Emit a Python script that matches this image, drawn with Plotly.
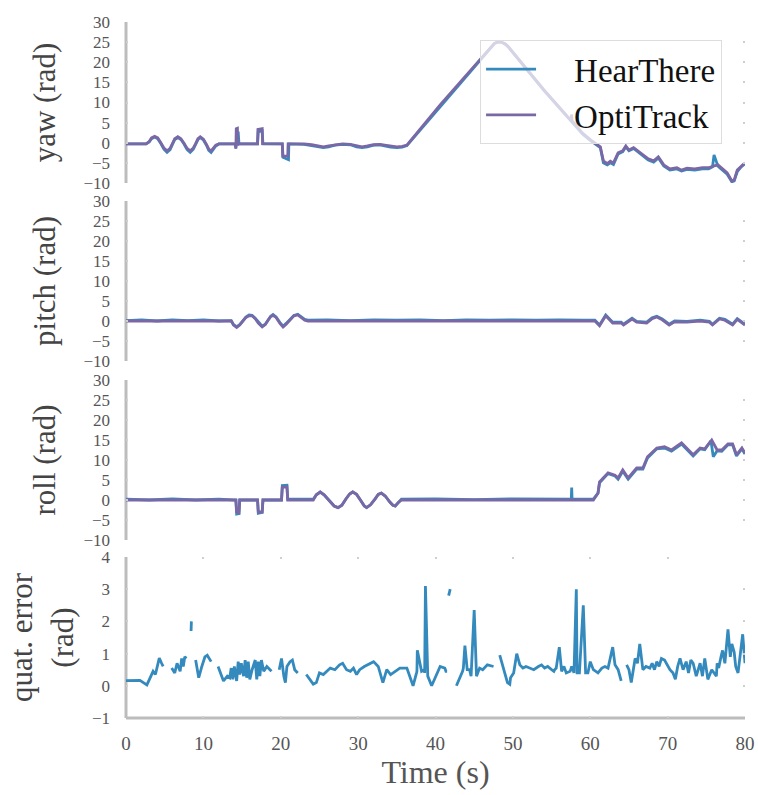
import plotly.graph_objects as go

# ---------------- data ----------------
yaw_t_opti = [0, 2.6, 3.0, 3.3, 3.7, 4.1, 4.5, 4.9, 5.3, 5.7, 6.0, 6.3, 6.7, 7.1, 7.5, 7.9, 8.3, 8.7,
              9.0, 9.3, 9.6, 10.0, 10.4, 10.7, 11.0, 11.3, 11.6, 12.0,
              14.1, 14.2, 14.25, 14.4, 14.45, 14.6, 17.0, 17.05, 17.6, 17.65, 20.2, 20.25, 20.9, 20.95,
              22, 23, 24, 25, 25.5, 26.2, 27, 28, 29, 29.8, 30.5, 31.2, 32, 32.8, 33.5, 34.2, 35,
              35.7, 36.3, 40.6, 44, 47.0, 47.6, 48.0, 48.5, 49.0, 49.4, 54,
              57.3, 57.5, 57.6, 57.65, 59, 60, 61.3, 61.7, 62.2, 62.6, 63.0, 63.6, 64.2, 64.6, 65.0,
              65.6, 66.5, 67.5, 68.2, 68.8, 69.5, 70.3, 71.2, 71.8, 72.5, 73.5, 74.5, 75.3, 75.9,
              76.5, 77.1, 77.7, 78.3, 78.6, 79.0, 79.5, 80]
yaw_opti = [-0.3, -0.3, 0.3, 1.2, 1.6, 1.2, 0.0, -1.3, -2.0, -1.4, -0.2, 1.0, 1.5, 1.0, -0.1, -1.4, -2.0, -1.3,
            -0.2, 1.0, 1.5, 0.9, -0.4, -1.6, -2.0, -1.4, -0.6, -0.3,
            -0.3, -1.5, 3.5, 3.6, -0.5, -0.3, -0.3, 3.3, 3.5, -0.2, -0.3, -3.3, -3.3, -0.3,
            -0.3, -0.3, -0.5, -0.9, -1.0, -0.8, -0.5, -0.3, -0.4, -0.8, -1.0, -0.8, -0.5, -0.4, -0.6, -0.9, -1.0,
            -0.9, -0.6, 9.4, 16.8, 23.5, 24.7, 25.0, 25.0, 24.6, 23.9, 13.2,
            6.0, 6.0, 7.0, 5.5, 2.4, 0.8, -1.0, -4.5, -5.2, -4.6, -5.0, -2.5, -2.0, -0.8, -1.8,
            -1.2, -2.5, -4.0, -4.5, -3.5, -5.5, -6.5, -6.2, -6.8, -6.3, -6.5, -6.2, -6.2, -5.8,
            -5.5, -6.5, -7.5, -9.5, -9.3, -6.8, -5.8, -5.0]

yaw_t_hear = [0, 2.6, 3.0, 3.3, 3.7, 4.1, 4.5, 4.9, 5.3, 5.7, 6.0, 6.3, 6.7, 7.1, 7.5, 7.9, 8.3, 8.7,
              9.0, 9.3, 9.6, 10.0, 10.4, 10.7, 11.0, 11.3, 11.6, 12.0,
              14.1, 14.2, 14.5, 14.6, 17.0, 17.1, 17.6, 17.7, 20.2, 20.3, 21.0, 21.05,
              22, 23, 24, 25, 25.5, 26.2, 27, 28, 29, 29.8, 30.5, 31.2, 32, 32.8, 33.5, 34.2, 35,
              35.7, 36.3, 40.6, 44, 47.0, 47.6, 48.0, 48.5, 49.0, 49.4, 54,
              59, 60, 61.3, 61.7, 62.2, 62.6, 63.0, 63.6, 64.2, 64.6, 65.0,
              65.6, 66.5, 67.5, 68.2, 68.8, 69.5, 70.3, 71.2, 71.8, 72.5, 73.5, 74.5, 75.3, 75.8, 76.0,
              76.5, 77.1, 77.7, 78.3, 78.6, 79.0, 79.5, 80]
yaw_hear = [-0.3, -0.3, 0.2, 1.0, 1.4, 1.0, -0.2, -1.6, -2.4, -1.7, -0.4, 0.8, 1.3, 0.8, -0.3, -1.7, -2.4, -1.6,
            -0.4, 0.8, 1.3, 0.7, -0.6, -1.9, -2.4, -1.7, -0.8, -0.3,
            -0.3, -1.2, 2.8, -0.3, -0.3, 2.8, 3.0, -0.3, -0.3, -3.6, -4.2, -0.3,
            -0.3, -0.4, -0.7, -1.1, -1.2, -1.0, -0.6, -0.4, -0.5, -1.0, -1.2, -1.0, -0.6, -0.5, -0.8, -1.1, -1.2,
            -1.1, -0.7, 9.0, 16.5, 23.3, 24.6, 25.0, 25.0, 24.5, 23.8, 13.0,
            2.2, 0.6, -1.2, -5.0, -5.5, -5.0, -5.4, -2.8, -2.2, -1.0, -2.0,
            -1.4, -2.8, -4.3, -4.8, -3.8, -5.8, -6.8, -6.5, -7.0, -6.6, -6.8, -6.5, -6.5, -6.0, -3.0,
            -5.8, -6.8, -7.8, -9.7, -9.5, -7.2, -6.0, -5.2]

pitch_t_opti = [0, 5, 10, 13.6, 13.9, 14.3, 14.7, 15.1, 15.5, 15.9, 16.3, 16.7, 17.1, 17.6, 18.0, 18.4,
                18.7, 19.0, 19.4, 19.9, 20.3, 20.7, 21.2, 21.7, 22.2, 22.7, 23.1, 23.5,
                30, 40, 50, 60.6, 61.2, 62.0, 62.9, 64.0, 64.3, 65.4, 66.0, 67.3, 68.0, 68.6, 69.3, 70.2, 70.9,
                72.5, 74.2, 75.4, 75.8, 76.7, 77.4, 78.4, 79.0, 80]
pitch_opti = [0, 0, 0, 0, -1.0, -1.6, -1.0, 0.0, 0.9, 1.3, 1.3, 0.6, -0.5, -1.5, -0.9, 0.3,
              1.1, 1.4, 0.9, -0.6, -1.5, -0.8, 0.4, 1.3, 1.5, 0.8, 0.2, 0,
              0, 0, 0, 0, -1.2, 1.3, -0.5, -0.5, -1.0, 0.5, -0.3, -0.5, 0.6, 1.0, 0.3, -1.0, -0.2,
              -0.3, 0, -0.3, -1.0, 0.5, 0.2, -1.0, 0.4, -1.0]

pitch_t_hear = [0, 2, 4, 6, 8, 10, 12, 13.6, 13.9, 14.3, 14.7, 15.1, 15.5, 15.9, 16.3, 16.7, 17.1, 17.6,
                18.0, 18.4, 18.7, 19.0, 19.4, 19.9, 20.3, 20.7, 21.2, 21.7, 22.2, 22.7, 23.1, 23.5,
                26, 29, 32, 35, 38, 41, 44, 47, 50, 53, 56, 59, 60.6, 61.2,
                62.0, 62.9, 64.0, 64.3, 65.4, 66.0, 67.3, 68.0, 68.6, 69.3, 70.2, 70.9, 72.5, 74.2, 75.4,
                75.8, 76.7, 77.4, 78.4, 79.0, 80]
pitch_hear = [0.1, 0.3, 0.0, 0.3, 0.1, 0.3, 0.0, 0.1, -0.9, -1.4, -0.9, 0.1, 1.0, 1.5, 1.4, 0.7, -0.3, -1.3,
              -0.8, 0.4, 1.2, 1.6, 1.0, -0.4, -1.3, -0.6, 0.5, 1.4, 1.7, 1.0, 0.4, 0.2,
              0.3, 0.1, 0.3, 0.2, 0.3, 0.1, 0.3, 0.2, 0.3, 0.2, 0.3, 0.2, 0.2, -1.0,
              1.5, -0.3, -0.3, -0.8, 0.7, -0.1, -0.3, 0.8, 1.2, 0.5, -0.8, 0.0, -0.1, 0.2, -0.1,
              -0.8, 0.7, 0.4, -0.8, 0.6, -0.8]

roll_t_opti = [0, 5, 8.5, 10, 14.2, 14.3, 14.6, 14.7, 17.0, 17.1, 17.6, 17.7, 20.1, 20.2, 20.8, 20.9,
               24.2, 24.6, 25.1, 25.6, 26.3, 26.9, 27.4, 27.9, 28.4, 28.9, 29.3, 29.8, 30.4, 30.8,
               31.1, 31.6, 32.2, 32.6, 33.0, 33.5, 34.1, 34.5, 34.8, 35.2, 35.6, 45, 55, 60.4, 61.0, 61.2, 62.3,
               63.2, 63.6, 64.2, 64.9, 66.0, 66.8, 67.4, 68.6, 69.6, 70.5, 71.8, 73.3, 74.2, 74.8,
               75.7, 76.4, 77.0, 77.8, 78.4, 78.9, 79.6, 80]
roll_opti = [0, 0, 0, 0, 0, -3.0, -3.2, 0, 0, -3.0, -3.0, 0, 0, 3.2, 3.3, 0,
             0, 1.3, 2.0, 1.3, -0.3, -1.5, -1.9, -1.3, 0.2, 1.5, 2.0, 1.4, -0.3, -1.5,
             -1.9, -1.2, 0.3, 1.4, 1.7, 1.0, -0.5, -1.3, -1.5, -0.6, 0, 0, 0, 0, 1.7, 4.5, 6.8,
             6.2, 5.5, 7.5, 5.5, 8.0, 8.0, 10.8, 13.0, 13.3, 12.5, 14.3, 11.3, 13.0, 12.8,
             15.0, 12.5, 12.5, 14.0, 14.0, 11.3, 13.0, 11.7]

roll_t_hear = [0, 3, 6, 9, 12, 14.2, 14.3, 14.6, 14.7, 17.0, 17.1, 17.6, 17.7, 20.1, 20.2, 20.8, 20.9,
               24.2, 24.6, 25.1, 25.6, 26.3, 26.9, 27.4, 27.9, 28.4, 28.9, 29.3, 29.8, 30.4, 30.8,
               31.1, 31.6, 32.2, 32.6, 33.0, 33.5, 34.1, 34.5, 34.8, 35.2, 35.6,
               40, 45, 50, 55, 57.55, 57.6, 57.65,
               60.4, 61.0, 61.2, 62.3, 63.2, 63.6, 64.2, 64.9, 66.0, 66.8, 67.4, 68.6, 69.6, 70.5,
               71.8, 73.3, 74.2, 74.8, 75.6, 75.9, 76.4, 77.0, 77.8, 78.4, 78.9, 79.6, 80]
roll_hear = [0.2, 0.0, 0.3, 0.0, 0.2, 0, -3.5, -3.4, 0, 0, -3.3, -3.1, 0, 0, 3.6, 3.7, 0.2,
             0.2, 1.3, 2.0, 1.3, -0.3, -1.5, -1.9, -1.3, 0.2, 1.5, 2.0, 1.4, -0.3, -1.5,
             -1.9, -1.2, 0.3, 1.4, 1.7, 1.0, -0.5, -1.3, -1.5, -0.6, 0.2,
             0.3, 0.1, 0.3, 0.2, 0.2, 3.1, 0.2,
             0.2, 1.7, 4.3, 6.6, 6.0, 5.2, 7.2, 5.2, 7.7, 7.7, 10.5, 12.8, 13.0, 12.2,
             14.0, 11.0, 12.8, 12.6, 14.8, 10.8, 12.3, 12.2, 13.8, 13.8, 11.0, 12.8, 11.5]

quat_t = [0, 1.8, 2.7, 3.1, 3.5, 3.8, 4.0, 4.3, 4.6, 4.8, 5.3,
          5.9, 6.3, 6.6, 7.0, 7.2, 7.4, 7.6, 7.8,
          8.4, 8.41, 8.45,
          8.6, 9.0, 9.4, 9.8, 10.2, 10.5, 11.0,
          11.5, 11.9, 12.6, 13.1, 13.4, 13.6, 13.8, 14.0, 14.3, 14.5, 14.7, 14.9, 15.2, 15.4,
          15.6, 15.8, 16.0, 16.3, 16.7, 16.9, 17.1, 17.3, 17.5, 17.8, 18.2, 18.8,
          19.5, 19.8, 20.1, 20.4, 20.6, 20.8, 21.2, 21.5, 21.8, 22.2,
          22.7, 23.3, 24.2, 24.6, 25.0, 25.5, 26.0, 26.4, 27.0, 27.6, 28.0, 28.5, 29.0, 29.4,
          29.8, 30.2, 30.8, 31.5, 32.0, 32.6, 33.2, 33.7,
          34.2, 34.8, 35.4, 36.3, 37.1, 37.55, 37.6, 37.65, 38.2, 38.55, 38.6, 38.7, 39.0, 39.5,
          39.9, 40.3, 40.6, 41.2, 41.35,
          41.5, 41.51, 41.7,
          41.9, 42.3, 42.7, 43.1, 43.4, 43.5, 43.6, 43.8, 44.1, 44.4, 44.5, 44.6, 45.0, 45.3,
          45.7, 46.1, 46.7,
          47.3, 47.5, 47.9, 48.3, 49.0, 49.3, 49.6, 49.7, 50.1, 50.5, 50.9, 51.3, 51.7, 52.2,
          52.7, 53.3, 53.7, 54.1, 54.5, 55.0, 55.3, 55.4, 55.6, 56.0, 56.3, 56.6, 56.9, 57.4,
          57.6, 57.7, 57.9, 58.2, 58.3, 58.6, 59.1, 59.4, 59.7,
          60.0, 60.4, 61.0, 61.5, 61.9, 62.3, 62.9, 63.2,
          63.6, 64.0, 64.3, 64.7, 65.0, 65.3, 65.8, 66.1, 66.4, 66.8, 67.2, 67.7, 68.0, 68.3,
          68.6, 68.9, 69.2, 69.6, 70.0, 70.3, 70.7, 71.0, 71.3, 71.6, 72.0, 72.4, 72.7, 73.0,
          73.3, 73.7, 74.2, 74.5, 74.8, 75.2, 75.7, 76.0, 76.3, 76.4, 76.6, 76.9, 77.1, 77.4,
          77.8, 78.1, 78.3, 78.6, 78.8, 79.1, 79.4, 79.7, 80]
quat_err = [0.16, 0.17, 0.03, 0.25, 0.45, 0.35, 0.6, 0.86, 0.7, 0.6, None,
            0.55, 0.4, 0.7, 0.45, 0.85, 0.6, 0.9, 0.85, None,
            1.7, 2.0, None,
            0.8, 0.25, 0.6, 0.9, 0.95, 0.75, None,
            0.6, 0.15, 0.3, 0.25, 0.55, 0.2, 0.6, 0.15, 0.75, 0.35, 0.7, 0.3, 0.8, 0.25,
            0.75, 0.2, 0.5, 0.8, 0.2, 0.75, 0.3, 0.8, 0.45, 0.6, 0.45, None,
            0.5, 0.85, 0.3, 0.1, 0.6, 0.75, 0.8, 0.5, 0.4, None,
            0.35, 0.05, 0.1, 0.4, 0.35, 0.45, 0.55, 0.5, 0.65, 0.7, 0.5, 0.45, 0.55, 0.35,
            0.5, 0.6, 0.7, 0.75, 0.6, 0.1, 0.5, 0.35,
            0.45, 0.55, 0.55, 0.0, 0.4, 0.45, 1.1, 0.45, 0.5, 0.4, 3.1, 0.3, 0.0, 0.2,
            0.4, 0.6, 0.55, 0.45, 0.45, None,
            2.8, 3.0, None,
            0.0, 0.2, 0.35, 0.45, 0.55, 1.25, 0.5, 0.5, 0.4, 0.3, 2.35, 0.3, 0.55, 0.5,
            0.65, 0.6, 0.6, None,
            0.95, 0.4, 0.1, 0.05, 0.25, 0.4, 1.0, 0.65, 0.55, 0.6, 0.55, 0.5, 0.6, 0.65,
            0.55, 0.6, 0.5, 0.45, 0.5, 0.55, 1.2, 0.45, 0.6, 0.4, 0.45, 0.6, 0.55, 0.4,
            3.0, 0.4, 0.4, 2.5, 0.4, 0.4, 0.75, 0.5, 0.4,
            0.55, 0.6, 0.55, 1.2, 0.65, 0.5, 0.15, None,
            0.65, 0.5, 0.1, 0.85, 0.7, 1.3, 0.5, 0.6, 0.55, 0.7, 0.5, 0.75, 0.6, 0.85,
            0.8, 0.6, 0.5, 0.4, 0.2, 0.6, 0.85, 0.5, 0.75, 0.4, 0.8, 0.7, 0.3, 0.7,
            0.3, 0.85, 0.2, 0.5, 0.4, 0.3, 0.7, 0.55, 0.9, 1.1, 0.7, 1.75, 0.9, 1.3,
            1.05, 0.6, 0.4, 1.0, 1.6, 0.7, 0.5, 1.05, 1.0]

x_ticks = [0, 10, 20, 30, 40, 50, 60, 70, 80]
angle_ticks = [-10, -5, 0, 5, 10, 15, 20, 25, 30]
quat_ticks = [-1, 0, 1, 2, 3, 4]

# ---------------- figure ----------------
BLUE = "#348ABD"
PURPLE = "#7A68A6"
SPINE = "#bcbcbc"
DOT = "#cfcfcf"
TICKCOL = "#555555"
FONT = "Liberation Serif, DejaVu Serif, serif"
LW = 2.8

fig = go.Figure()

panels = [
    ("y", yaw_t_hear, yaw_hear, yaw_t_opti, yaw_opti),
    ("y2", pitch_t_hear, pitch_hear, pitch_t_opti, pitch_opti),
    ("y3", roll_t_hear, roll_hear, roll_t_opti, roll_opti),
]
xs = ["x", "x2", "x3"]
NB = "\u00a0" * 4
for i, (ya, th, vh, to, vo) in enumerate(panels):
    fig.add_trace(go.Scatter(x=th, y=vh, mode="lines", line=dict(color=BLUE, width=LW),
                             name=NB + "HearThere", showlegend=(i == 0), xaxis=xs[i], yaxis=ya))
    fig.add_trace(go.Scatter(x=to, y=vo, mode="lines", line=dict(color=PURPLE, width=LW),
                             name=NB + "OptiTrack", showlegend=(i == 0), xaxis=xs[i], yaxis=ya))

fig.add_trace(go.Scatter(x=quat_t, y=quat_err, mode="lines", line=dict(color=BLUE, width=LW),
                         connectgaps=False, showlegend=False, xaxis="x4", yaxis="y4"))

H_TOP, H_BOT = 22, 718
def dom(top_px, bot_px):
    return [(H_BOT - bot_px) / (H_BOT - H_TOP), (H_BOT - top_px) / (H_BOT - H_TOP)]

doms = [dom(22, 183), dom(201, 361), dom(380, 540), dom(557, 718)]
titles = ["yaw (rad)", "pitch (rad)", "roll (rad)", "quat. error<br>(rad)"]
standoffs = [18, 18, 18, 9]

shapes = []
for k in range(4):
    sx = "" if k == 0 else str(k + 1)
    last = k == 3
    fig.layout["xaxis" + sx] = dict(
        range=[0, 80], tickvals=x_ticks, showgrid=False, zeroline=False,
        anchor="y" + sx,
        domain=[0, 1],
        matches=None if k == 0 else "x",
        showticklabels=last,
        showline=False,
        ticks="inside" if last else "", ticklen=2, tickwidth=2, tickcolor=DOT,
        mirror="ticks" if last else False,
        tickfont=dict(family=FONT, size=19, color=TICKCOL),
        ticklabelstandoff=12,
        title=dict(text="Time (s)", font=dict(family=FONT, size=32, color=TICKCOL), standoff=6) if last else None,
    )
    fig.layout["yaxis" + sx] = dict(
        anchor="x" + sx,
        domain=doms[k],
        range=[-1, 4] if last else [-10, 30],
        tickvals=quat_ticks if last else angle_ticks,
        showgrid=False, zeroline=False,
        showline=False,
        ticks="inside", ticklen=2, tickwidth=2, tickcolor=DOT,
        mirror="ticks",
        tickfont=dict(family=FONT, size=17, color=TICKCOL),
        ticklabelstandoff=15,
        title=dict(text=titles[k], font=dict(family=FONT, size=31, color="#444444"), standoff=standoffs[k]),
    )
    # left spine
    shapes.append(dict(type="line", xref="x" + sx + " domain", yref="y" + sx + " domain",
                       x0=0, x1=0, y0=0, y1=1, line=dict(color=SPINE, width=3), layer="below"))
    if last:
        shapes.append(dict(type="line", xref="x" + sx + " domain", yref="y" + sx + " domain",
                           x0=0, x1=1, y0=0, y1=0, line=dict(color=SPINE, width=3), layer="below"))

fig.update_layout(
    width=758, height=795,
    margin=dict(l=126, r=13, t=22, b=77, autoexpand=False),
    paper_bgcolor="white", plot_bgcolor="white",
    font=dict(family=FONT),
    shapes=shapes,
    legend=dict(
        x=0.572, y=0.974, xanchor="left", yanchor="top",
        bgcolor="rgba(255,255,255,0.7)", bordercolor="#dddddd", borderwidth=1,
        font=dict(family=FONT, size=33, color="#111111"),
        itemwidth=50,
    ),
)

fig.write_html("out.html")
